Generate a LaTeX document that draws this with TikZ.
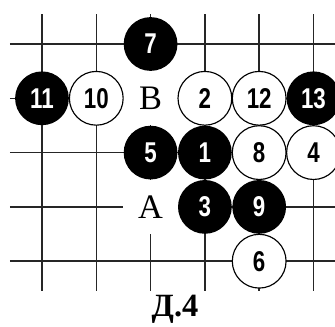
\documentclass[tikz,border=0pt]{standalone}
\usepackage{fontspec}
\setmainfont{Liberation Serif}
\newfontfamily\stonefont[FakeStretch=0.78]{Liberation Sans}
\usetikzlibrary{positioning}

\begin{document}
\begin{tikzpicture}[
  x=1cm, y=1cm,
  gridline/.style={line width=0.8pt, black!85},
  stone/.style={circle, minimum size=0.99cm, inner sep=0pt,
                font=\stonefont\bfseries\fontsize{15}{15}\selectfont},
  bstone/.style={stone, fill=black, text=white},
  wstone/.style={stone, draw=black, line width=0.6pt, fill=white},
  pointlabel/.style={fill=white, minimum size=1cm, inner sep=0pt,
                     font=\fontsize{18}{18}\selectfont}
]
  \useasboundingbox (-0.773,0.81) rectangle (5.396,-5.21);

  % board
  \foreach \r in {0,...,4}
    \draw[gridline] (-0.59,-\r) -- (5.4,-\r);
  \foreach \c in {0,...,5}
    \draw[gridline] (\c,0.55) -- (\c,-4.55);

  % marked points
  \node[pointlabel] (ptB) at (2,-1) {B};
  \node[pointlabel] (ptA) at (2,-3) {A};

  % stones
  \node[bstone] (m7)  at (2,0)  {7};
  \node[bstone] (m11) at (0,-1) {11};
  \node[wstone] (m10) at (1,-1) {10};
  \node[wstone] (m2)  at (3,-1) {2};
  \node[wstone] (m12) at (4,-1) {12};
  \node[bstone] (m13) at (5,-1) {13};
  \node[bstone] (m5)  at (2,-2) {5};
  \node[bstone] (m1)  at (3,-2) {1};
  \node[wstone] (m8)  at (4,-2) {8};
  \node[wstone] (m4)  at (5,-2) {4};
  \node[bstone] (m3)  at (3,-3) {3};
  \node[bstone] (m9)  at (4,-3) {9};
  \node[wstone] (m6)  at (4,-4) {6};

  \node[font=\bfseries\fontsize{17}{17}\selectfont] (caption) at (2.45,-4.88) {Д.4};
\end{tikzpicture}
\end{document}
